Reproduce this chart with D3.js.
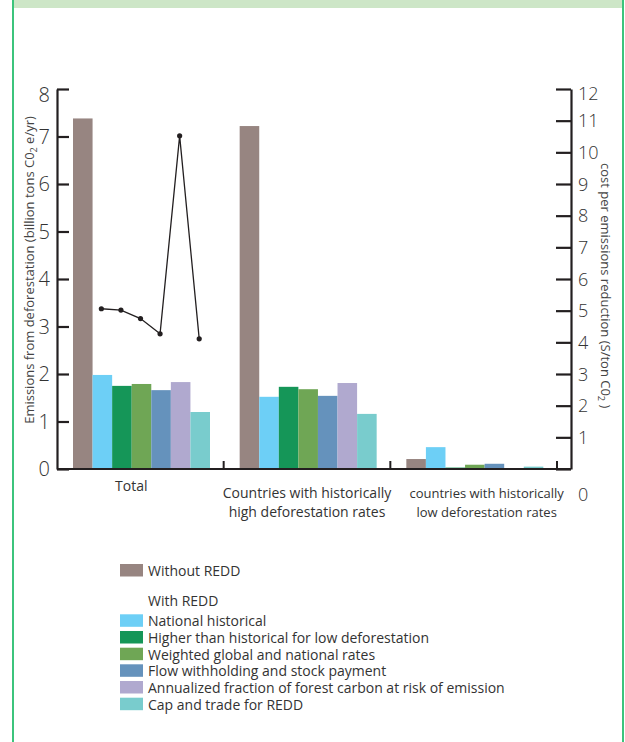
<!DOCTYPE html>
<html><head><meta charset="utf-8">
<script src="https://cdn.jsdelivr.net/npm/d3@7"></script>
<style>
html,body{margin:0;padding:0;background:#fff;}
svg{display:block;}
text{font-family:"Open Sans","Noto Sans",sans-serif;}
</style></head>
<body>
<svg id="chart" width="625" height="742"></svg>
<script>
// ---- data ----
const categories = ["Total", "Countries with historically|high deforestation rates", "countries with historically|low deforestation rates"];
const seriesNames = ["Without REDD", "National historical", "Higher than historical for low deforestation", "Weighted global and national rates", "Flow withholding and stock payment", "Annualized fraction of forest carbon at risk of emission", "Cap and trade for REDD"];
const withoutREDD = [7.38, 7.22, 0.21];
const nationalHistorical = [1.98, 1.52, 0.46];
const higherThanHistorical = [1.75, 1.73, 0.03];
const weightedGlobal = [1.79, 1.68, 0.09];
const flowWithholding = [1.66, 1.54, 0.11];
const annualizedFraction = [1.83, 1.81, 0];
const capAndTrade = [1.2, 1.16, 0.05];
const costTotal = [5.06, 5.02, 4.75, 4.27, 10.52, 4.11]; // cost per emissions reduction, Total group, REDD series 1..6
const leftTicks = [0, 1, 2, 3, 4, 5, 6, 7, 8];
const rightTicks = [0, 1, 2, 3, 4, 5, 6, 7, 8, 9, 10, 11, 12];
const colors = ["#978581", "#6dcff6", "#159658", "#6fa655", "#6592bc", "#b0a9cf", "#79cccd"];

const seriesValues = [withoutREDD, nationalHistorical, higherThanHistorical, weightedGlobal, flowWithholding, annualizedFraction, capAndTrade];

const svg = d3.select("#chart");

// frame
svg.append("rect").attr("x", 14).attr("y", 0).attr("width", 608).attr("height", 8).attr("fill", "#cde6c7");
svg.append("line").attr("x1", 13).attr("x2", 13).attr("y1", 0).attr("y2", 742).attr("stroke", "#3cc47c").attr("stroke-width", 2);
svg.append("line").attr("x1", 623).attr("x2", 623).attr("y1", 0).attr("y2", 742).attr("stroke", "#3cc47c").attr("stroke-width", 2);

const x0 = 57, x1 = 557, xEnd = 571, yTop = 89, yBase = 469;
const xGroup = d3.scaleBand().domain(categories).range([x0, x1]).padding(0);
const xSeries = d3.scaleBand().domain(seriesNames).range([16, 153]).padding(0);
const yLeft = d3.scaleLinear().domain([0, 8]).range([yBase, yTop]);
const yRight = d3.scaleLinear().domain([0, 12]).range([yBase, yTop]);

// bars
const barData = [];
categories.forEach((c, ci) => seriesNames.forEach((s, si) => barData.push({c, s, si, v: seriesValues[si][ci]})));
svg.append("g").selectAll("rect").data(barData.filter(d => d.v > 0)).join("rect")
  .attr("x", d => xGroup(d.c) + xSeries(d.s))
  .attr("width", xSeries.bandwidth())
  .attr("y", d => yLeft(d.v))
  .attr("height", d => yBase - yLeft(d.v))
  .attr("fill", d => colors[d.si]);

// axes
const axisColor = "#231f20";
const leftAxis = svg.append("g").attr("transform", `translate(${x0},0)`)
  .call(d3.axisLeft(yLeft).tickValues(leftTicks).tickSizeInner(-12).tickSizeOuter(0).tickPadding(7));
leftAxis.selectAll("path,line").attr("stroke", axisColor).attr("stroke-width", 2.2);
leftAxis.selectAll("text").attr("font-size", 20).attr("font-weight", 300).attr("fill", "#333")
  .attr("dy", d => d === 8 ? "0.62em" : "0.34em");

const rightAxis = svg.append("g").attr("transform", `translate(${xEnd},0)`)
  .call(d3.axisRight(yRight).tickValues(rightTicks).tickSizeInner(-15).tickSizeOuter(0).tickPadding(7));
rightAxis.selectAll("path,line").attr("stroke", axisColor).attr("stroke-width", 2.2);
rightAxis.selectAll("text").attr("font-size", 18).attr("font-weight", 300).attr("fill", "#333")
  .attr("dy", d => d === 12 ? "0.58em" : d === 0 ? "1.75em" : "0.34em");

// bottom baseline and group separators
svg.append("line").attr("x1", x0).attr("x2", xEnd).attr("y1", yBase).attr("y2", yBase)
  .attr("stroke", axisColor).attr("stroke-width", 2.2);
svg.append("g").selectAll("line").data(categories).join("line")
  .attr("x1", d => xGroup(d) + xGroup.bandwidth()).attr("x2", d => xGroup(d) + xGroup.bandwidth())
  .attr("y1", yBase).attr("y2", yBase - 8).attr("stroke", axisColor).attr("stroke-width", 2);

// category labels
const labelShift = [-9, 0, 13];
const labelSize = [14, 14, 13];
const labelY = [491, 498, 498];
categories.forEach((c, i) => {
  const lines = c.split("|");
  const t = svg.append("text").attr("text-anchor", "middle").attr("fill", "#333").attr("font-size", labelSize[i])
    .attr("x", xGroup(c) + xGroup.bandwidth() / 2 + labelShift[i]).attr("y", labelY[i]);
  lines.forEach((l, li) => t.append("tspan").attr("x", xGroup(c) + xGroup.bandwidth() / 2 + labelShift[i]).attr("dy", li ? 19 : 0).text(l));
});

// cost line
const linePts = costTotal.map((v, i) => ({x: xGroup(categories[0]) + xSeries(seriesNames[i + 1]) + xSeries.bandwidth() / 2 - 1, y: yRight(v)}));
svg.append("path").datum(linePts).attr("fill", "none").attr("stroke", "#231f20").attr("stroke-width", 1.3)
  .attr("d", d3.line().x(d => d.x).y(d => d.y));
svg.append("g").selectAll("circle").data(linePts).join("circle")
  .attr("cx", d => d.x).attr("cy", d => d.y).attr("r", 2.6).attr("fill", "#231f20");

// axis titles
const lt = svg.append("text").attr("transform", `translate(34,${(98 + 442) / 2}) rotate(-90)`)
  .attr("text-anchor", "middle").attr("font-size", 13).attr("fill", "#444");
lt.append("tspan").text("Emissions from deforestation (billion tons C0");
lt.append("tspan").attr("font-size", 9).attr("dy", 3).text("2");
lt.append("tspan").attr("dy", -3).text(" e/yr)");

const rt = svg.append("text").attr("transform", `translate(601,163) rotate(90)`)
  .attr("text-anchor", "start").attr("font-size", 13).attr("fill", "#444");
rt.append("tspan").text("cost per emissions reduction (S/ton C0");
rt.append("tspan").attr("font-size", 9).attr("dy", 3).text("2");
rt.append("tspan").attr("dy", -3).text(" )");

// legend
const legendY = [564, 614.3, 631, 647.7, 664.3, 681, 697.7];
const lg = svg.append("g");
seriesNames.forEach((s, i) => {
  lg.append("rect").attr("x", 120).attr("y", legendY[i]).attr("width", 23).attr("height", 12.5).attr("fill", colors[i]);
  lg.append("text").attr("x", 148).attr("y", legendY[i] + 12).attr("font-size", 14).attr("fill", "#333").text(s);
});
lg.append("text").attr("x", 148).attr("y", 606).attr("font-size", 14).attr("fill", "#333").text("With REDD");
</script>
</body></html>
